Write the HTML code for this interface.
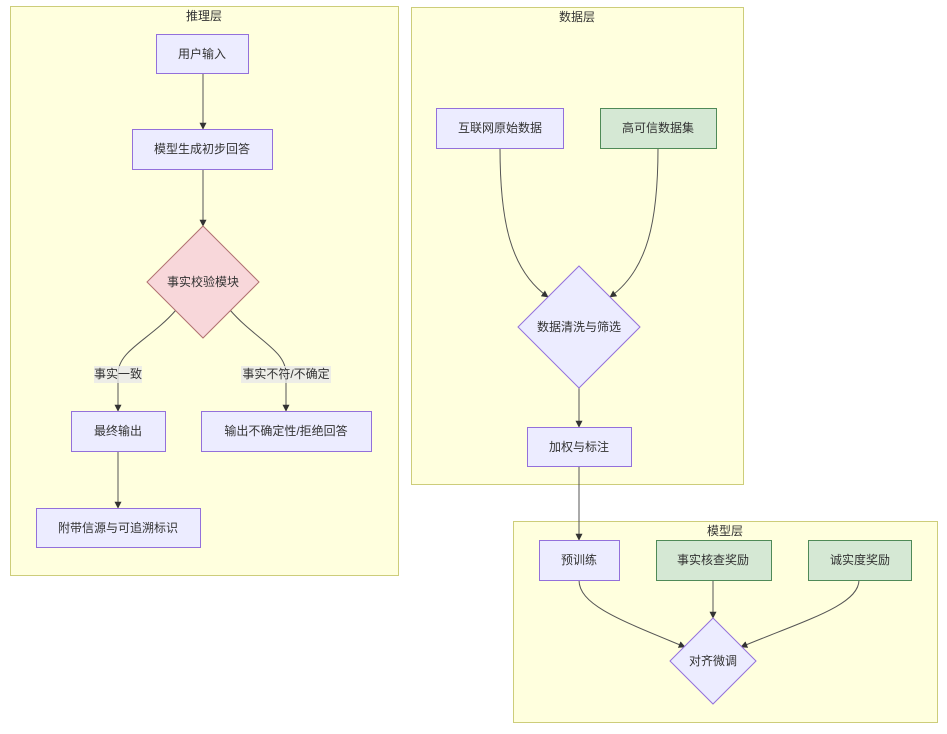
<!DOCTYPE html>
<html><head><meta charset="utf-8"><style>
html,body{margin:0;padding:0;background:#fff;}
svg{display:block;font-family:"Liberation Sans","Noto Sans CJK SC",sans-serif;}
text{font-size:12px;fill:#333;text-anchor:middle;dominant-baseline:central;}
.sg{fill:#ffffde;stroke:#cdcd7a;stroke-width:1;}
.n{fill:#ececff;stroke:#9370db;stroke-width:1;}
.g{fill:#d5e8d4;stroke:#4f8a57;stroke-width:1;}
.r{fill:#f8d7da;stroke:#b07070;stroke-width:1;}
.e{fill:none;stroke:#555;stroke-width:1;marker-end:url(#a);}
</style></head><body>
<svg width="947" height="734" viewBox="0 0 947 734">
<defs><marker id="a" viewBox="0 0 10 10" refX="9" refY="5" markerWidth="7" markerHeight="7" orient="auto"><path d="M0,0L10,5L0,10z" fill="#333"/></marker></defs>
<rect class="sg" x="10.5" y="6.5" width="388" height="569"/>
<text x="204" y="16">推理层</text>
<rect class="sg" x="411.5" y="7.5" width="332" height="477"/>
<text x="577" y="17">数据层</text>
<rect class="sg" x="513.5" y="521.5" width="424" height="201"/>
<text x="725" y="531">模型层</text>

<path class="e" d="M203,73V129"/>
<path class="e" d="M203,169V226"/>
<path class="e" d="M176,310C150,340 118,350 118,374C118,395 118,400 118,411"/>
<path class="e" d="M230,310C256,340 286,350 286,374C286,395 286,400 286,411"/>
<path class="e" d="M118,451V508"/>
<path class="e" d="M500,148C500,220 510,270 548,297"/>
<path class="e" d="M658,148C658,220 648,270 610,297"/>
<path class="e" d="M579,388V427"/>
<path class="e" d="M579,466V540"/>
<path class="e" d="M579,580C579,605 620,620 685,647"/>
<path class="e" d="M713,580V618"/>
<path class="e" d="M859,580C859,605 806,620 741,647"/>

<rect x="94" y="366" width="48" height="17" fill="#e8e8e8" opacity="0.8"/>
<text x="118" y="374">事实一致</text>
<rect x="241" y="366" width="90" height="17" fill="#e8e8e8" opacity="0.8"/>
<text x="286" y="374">事实不符/不确定</text>

<rect class="n" x="156.5" y="34.5" width="92" height="39"/><text x="202" y="54">用户输入</text>
<rect class="n" x="132.5" y="129.5" width="140" height="40"/><text x="202" y="149">模型生成初步回答</text>
<path class="r" d="M203,226L259,282L203,338L147,282Z"/><text x="203" y="282">事实校验模块</text>
<rect class="n" x="71.5" y="411.5" width="94" height="40"/><text x="118" y="431">最终输出</text>
<rect class="n" x="201.5" y="411.5" width="170" height="40"/><text x="286" y="431">输出不确定性/拒绝回答</text>
<rect class="n" x="36.5" y="508.5" width="164" height="39"/><text x="118" y="528">附带信源与可追溯标识</text>

<rect class="n" x="436.5" y="108.5" width="127" height="40"/><text x="500" y="128">互联网原始数据</text>
<rect class="g" x="600.5" y="108.5" width="116" height="40"/><text x="658" y="128">高可信数据集</text>
<path class="n" d="M579,266L640,327L579,388L518,327Z"/><text x="579" y="327">数据清洗与筛选</text>
<rect class="n" x="527.5" y="427.5" width="104" height="39"/><text x="579" y="447">加权与标注</text>

<rect class="n" x="539.5" y="540.5" width="80" height="40"/><text x="579" y="560">预训练</text>
<rect class="g" x="656.5" y="540.5" width="115" height="40"/><text x="713" y="560">事实核查奖励</text>
<rect class="g" x="808.5" y="540.5" width="103" height="40"/><text x="860" y="560">诚实度奖励</text>
<path class="n" d="M713,618L756,661L713,704L670,661Z"/><text x="713" y="661">对齐微调</text>
</svg>
</body></html>
